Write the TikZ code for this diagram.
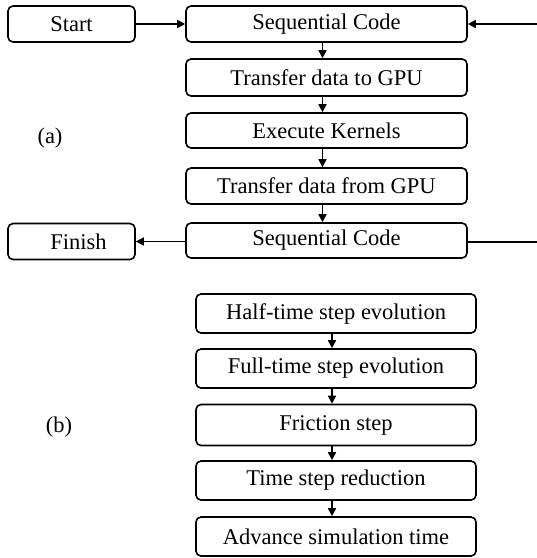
\documentclass[tikz,border=0pt]{standalone}
\usepackage{fontspec}
\setmainfont{Liberation Serif}
\usetikzlibrary{arrows.meta}
\begin{document}
\begin{tikzpicture}[x=1pt,y=-1pt,
  box/.style={draw=black,line width=1.6pt,rounded corners=5pt,inner sep=0pt,
    font=\fontsize{22.5}{27}\selectfont},
  abox/.style={box,minimum width=281pt},
  bbox/.style={box,minimum width=280pt,minimum height=39pt},
  sbox/.style={box,minimum width=127pt,minimum height=36pt},
  arr/.style={line width=1.6pt,-{Triangle[length=8pt,width=8pt]}},
  lbl/.style={font=\fontsize{22.5}{27}\selectfont}]
\useasboundingbox (0,0) rectangle (537,558);
% part (a)
\node[sbox] (start) at (71.5,24) {Start};
\node[abox,minimum height=36pt] (seq1) at (326.5,24) {Sequential Code};
\node[abox,minimum height=37pt] (tto) at (326.5,77.5) {Transfer data to GPU};
\node[abox,minimum height=35pt] (exec) at (326.5,130.5) {Execute Kernels};
\node[abox,minimum height=36pt] (tfrom) at (326.5,186) {Transfer data from GPU};
\node[abox,minimum height=35pt] (seq2) at (326.5,240.5) {Sequential Code};
\node[sbox] (finish) at (71.5,241.5) {\hspace*{14pt}Finish};
\node[lbl] (la) at (50,138) {(a)};
\coordinate (rin) at (537,24);
\coordinate (rout) at (537,242);
\draw[arr] (start) -- (seq1);
\draw[arr] (rin) -- (seq1);
\draw[arr] ([xshift=-4pt]seq1.south) -- ([xshift=-4pt]tto.north);
\draw[arr] ([xshift=-4pt]tto.south) -- ([xshift=-4pt]exec.north);
\draw[arr] ([xshift=-4pt]exec.south) -- ([xshift=-4pt]tfrom.north);
\draw[arr] ([xshift=-4pt]tfrom.south) -- ([xshift=-4pt]seq2.north);
\draw[arr] (seq2.west|-finish) -- (finish);
\draw[line width=1.6pt] (seq2.east|-rout) -- (rout);
% part (b)
\node[bbox] (half) at (336,313.5) {Half-time step evolution};
\node[bbox] (full) at (336,368.5) {Full-time step evolution};
\node[bbox,minimum height=41pt] (fric) at (336,425) {Friction step};
\node[bbox] (tsr) at (336,480.5) {Time step reduction};
\node[bbox] (adv) at (336,536.5) {Advance simulation time};
\node[lbl] (lb) at (59,427) {(b)};
\draw[arr] ([xshift=-4pt]half.south) -- ([xshift=-4pt]full.north);
\draw[arr] ([xshift=-4pt]full.south) -- ([xshift=-4pt]fric.north);
\draw[arr] ([xshift=-4pt]fric.south) -- ([xshift=-4pt]tsr.north);
\draw[arr] ([xshift=-4pt]tsr.south) -- ([xshift=-4pt]adv.north);
\end{tikzpicture}
\end{document}
